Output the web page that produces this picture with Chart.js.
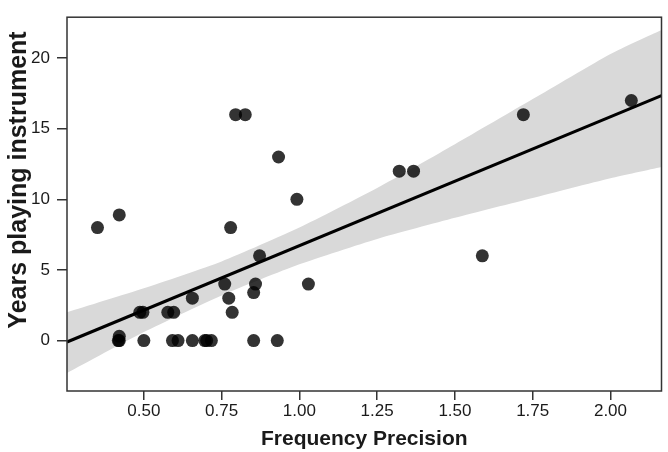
<!DOCTYPE html>
<html>
<head>
<meta charset="utf-8">
<script src="https://cdn.jsdelivr.net/npm/chart.js@4/dist/chart.umd.min.js"></script>
<style>
  html, body { margin: 0; padding: 0; background: #fff; }
  #wrap { width: 668px; height: 452px; position: relative; }
</style>
</head>
<body>
<div id="wrap"><canvas id="precisionChart"></canvas></div>
<script>
// measured points (frequency precision vs years playing)
const precision = [0.351, 0.421, 0.421, 0.421, 0.418, 0.500, 0.487, 0.497, 0.577, 0.596,
  0.592, 0.610, 0.656, 0.656, 0.696, 0.702, 0.717, 0.760, 0.773, 0.784,
  0.779, 0.795, 0.826, 0.853, 0.859, 0.853, 0.872, 0.933, 0.929, 0.992,
  1.029, 1.321, 1.367, 1.588, 1.720, 2.067];
const years = [8, 8.9, 0.3, 0, 0, 0, 2, 2, 2, 2,
  0, 0, 3, 0, 0, 0, 0, 4, 3, 2,
  8, 16, 16, 3.4, 4, 0, 6, 13, 0, 10,
  4, 12, 12, 6, 16, 17];

// fitted line, read at the two plot edges
const fitX = [0.253, 2.164];
const fitY = [-0.1, 17.35];

// confidence band edges
const bandX     = [0.253, 0.5, 0.75, 1.0, 1.25, 1.5, 1.75, 2.0, 2.164];
const bandUpper = [2.0, 3.7, 5.6, 8.0, 10.8, 13.9, 17.1, 20.3, 22.0];
const bandLower = [-2.3, 0.6, 3.2, 5.4, 7.2, 8.7, 10.1, 11.5, 12.3];

// axis ticks
const xTicks = [0.5, 0.75, 1.0, 1.25, 1.5, 1.75, 2.0];
const xTickLabels = ["0.50", "0.75", "1.00", "1.25", "1.50", "1.75", "2.00"];
const yTicks = [0, 5, 10, 15, 20];
const yTitle = "Years playing instrument";

document.addEventListener("DOMContentLoaded", function () {
  const pairs = (xs, ys) => xs.map((x, i) => ({ x: x, y: ys[i] }));
  const fontFam = "'Liberation Sans', Arial, sans-serif";

  // box round the plot area + y title (sits a bit above centre in the original)
  const frame = {
    id: "frame",
    afterDraw(chart) {
      const a = chart.chartArea, ctx = chart.ctx;
      ctx.save();
      ctx.strokeStyle = "#333";
      ctx.lineWidth = 1.5;
      ctx.strokeRect(a.left, a.top, a.right - a.left, a.bottom - a.top);
      ctx.translate(19, 180);
      ctx.rotate(-Math.PI / 2);
      ctx.fillStyle = "#1a1a1a";
      ctx.font = "bold 25px " + fontFam;
      ctx.textAlign = "center";
      ctx.textBaseline = "middle";
      ctx.fillText(yTitle, 0, 0);
      ctx.restore();
    }
  };

  const canvas = document.getElementById("precisionChart");
  new Chart(canvas.getContext("2d"), {
    type: "scatter",
    data: {
      datasets: [
        {
          label: "points",
          data: pairs(precision, years),
          backgroundColor: "rgba(0,0,0,0.8)",
          borderWidth: 0,
          pointRadius: 6.5,
          order: 0
        },
        {
          type: "line",
          label: "fit",
          data: pairs(fitX, fitY),
          borderColor: "#000",
          borderWidth: 3,
          pointRadius: 0,
          showLine: true,
          fill: false,
          order: 1
        },
        {
          type: "line",
          label: "upper",
          data: pairs(bandX, bandUpper),
          borderWidth: 0,
          borderColor: "rgba(0,0,0,0)",
          backgroundColor: "#d9d9d9",
          pointRadius: 0,
          tension: 0.2,
          showLine: true,
          fill: "+1",
          order: 2
        },
        {
          type: "line",
          label: "lower",
          data: pairs(bandX, bandLower),
          borderWidth: 0,
          borderColor: "rgba(0,0,0,0)",
          pointRadius: 0,
          tension: 0.2,
          showLine: true,
          fill: false,
          order: 3
        }
      ]
    },
    options: {
      responsive: true,
      maintainAspectRatio: false,
      animation: false,
      layout: { padding: { top: 5, right: 5, left: 0, bottom: 0 } },
      plugins: { legend: { display: false }, tooltip: { enabled: false } },
      scales: {
        x: {
          type: "linear",
          min: 0.253,
          max: 2.164,
          afterFit(s) { s.height = 61; },
          afterBuildTicks(s) { s.ticks = xTicks.map(v => ({ value: v })); },
          border: { display: false },
          grid: { drawOnChartArea: false, drawTicks: true, tickLength: 9, color: "#333", lineWidth: 1.5 },
          ticks: {
            padding: 1,
            color: "#1a1a1a",
            font: { family: fontFam, size: 17 },
            callback: (v) => xTickLabels[xTicks.indexOf(v)]
          },
          title: {
            display: true,
            text: "Frequency Precision",
            color: "#1a1a1a",
            font: { family: fontFam, size: 21, weight: "bold" },
            padding: { top: 2, bottom: 0 }
          }
        },
        y: {
          type: "linear",
          min: -3.57,
          max: 22.9,
          afterFit(s) { s.width = 67; },
          afterBuildTicks(s) { s.ticks = yTicks.map(v => ({ value: v })); },
          border: { display: false },
          grid: { drawOnChartArea: false, drawTicks: true, tickLength: 10, color: "#333", lineWidth: 1.5 },
          ticks: {
            padding: 7,
            color: "#1a1a1a",
            font: { family: fontFam, size: 17 }
          },
          title: { display: false }
        }
      }
    },
    plugins: [frame]
  });
});
</script>
</body>
</html>
